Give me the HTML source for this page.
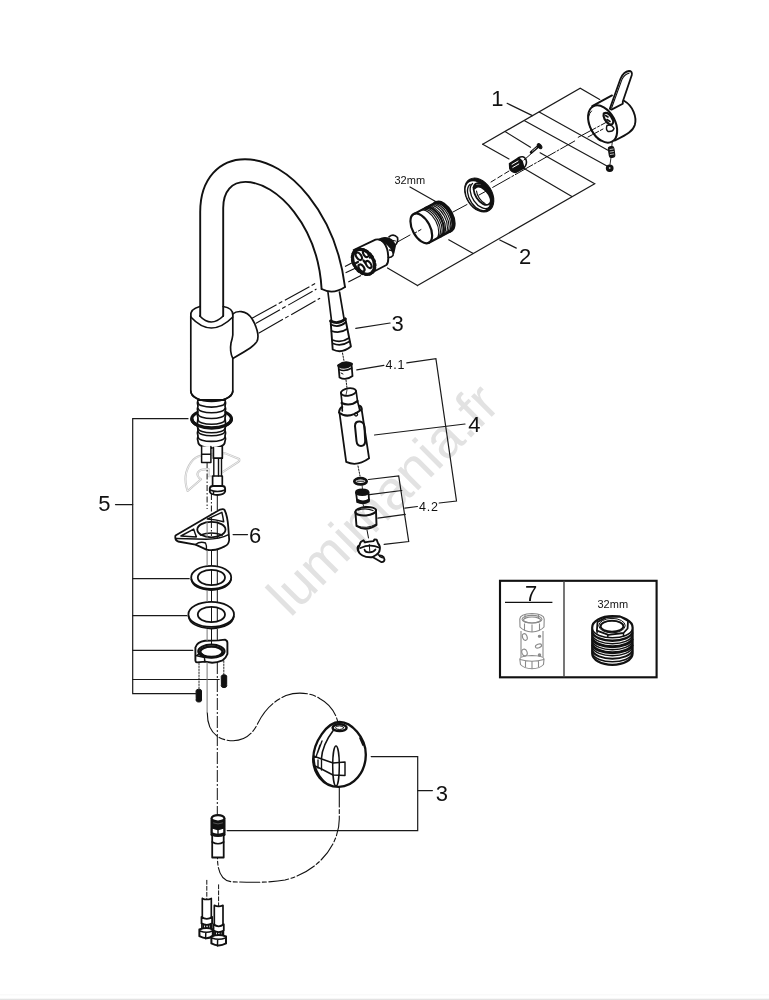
<!DOCTYPE html>
<html><head><meta charset="utf-8">
<style>
html,body{margin:0;padding:0;background:#fff;width:769px;height:1000px;overflow:hidden;position:relative}
svg{position:absolute;left:0;top:0;will-change:transform}
.wm{position:absolute;left:0;top:0;font-family:"Liberation Sans",sans-serif;font-size:55px;color:#e2e2e2;white-space:nowrap;transform-origin:0 0;line-height:1}
.bot{position:absolute;left:0;top:994px;width:769px;height:6px;background:linear-gradient(#fff 0px,#fafafa 0.5px,#fafafa 1.2px,#fff 1.8px,#fff 4.2px,#e9e9e9 5px,#dcdcdc 6px)}
</style></head><body>
<div class="wm" style="left:286px;top:613.5px;transform:rotate(-45deg) translate(0,-40px)">lumimania.fr</div>
<svg width="769" height="1000" viewBox="0 0 769 1000" font-family="Liberation Sans, sans-serif">
<!-- ============ LEADER LINES ============ -->
<g fill="none" stroke="#1a1a1a" stroke-width="1.2" stroke-linecap="round">
<!-- bracket 1 -->
<path d="M482.7 144.2 L580.2 88.3 L599.7 99.4"/>
<path d="M482.7 144.2 L509 158.9"/>
<path d="M505.1 131.6 L530.5 147.2"/>
<path d="M524.6 120.8 L606.5 165.7"/>
<path d="M539.2 112.1 L607.5 150.1"/>
<path d="M507.1 103.3 L532.4 115.6"/>
<!-- bracket 2 -->
<path d="M540.1 152.8 L594.7 183.7 L417.5 285.6"/>
<path d="M523.7 168.2 L571.9 196.5"/>
<path d="M448.7 239.8 L472.8 253.3"/>
<path d="M387.5 268 L417.5 285.6"/>
<path d="M499.8 240 L516.3 248.1"/>
<path d="M410 187 L437.4 202.4"/>
<!-- 3 upper -->
<path d="M355.8 328.3 L390.1 323"/>
<!-- 4.1 -->
<path d="M356.8 369.9 L383.9 365.3"/>
<path d="M406.8 362.8 L435.9 358.7 L456.5 501 L439.2 503"/>
<!-- 4 -->
<path d="M374.5 435 L465 424"/>
<!-- 4.2 -->
<path d="M368.5 479.5 L398.7 476 L408.7 541.5 L384.1 544.3"/>
<path d="M369.5 494.7 L401.8 490.5"/>
<path d="M377.9 518.2 L405.3 514.4"/>
<path d="M417.4 506.5 L404.9 508.2"/>
<!-- 5 -->
<path d="M188 418.7 L132.7 418.7 L132.7 693.7 L195.5 693.7"/>
<path d="M132.7 578.7 L189.2 578.7"/>
<path d="M132.7 615.7 L187 615.7"/>
<path d="M132.7 650.3 L192.8 650.3"/>
<path d="M132.7 679.5 L219.2 679.5"/>
<path d="M115.5 504.6 L132.7 504.6"/>
<!-- 6 -->
<path d="M233.1 534.6 L247.5 534.6"/>
<!-- 3 lower -->
<path d="M371.2 756.6 L417.7 756.6 L417.7 830.6 L227.2 830.6"/>
<path d="M417.7 790.6 L432.4 790.6"/>
</g>

<!-- ============ PARTS ============ -->
<g fill="none" stroke="#111" stroke-width="1.68" stroke-linecap="round" stroke-linejoin="round">
<!-- spout -->
<path d="M200.2 316 L200.2 212 C200.2 178 220 159.2 245 159.2 C290 159.2 336 215 345 287" stroke-width="1.9"/>
<path d="M223.2 316 L223.2 208 C223.2 191 232 181.9 245.5 181.9 C277 181.9 318 226 321.6 289" stroke-width="1.9"/>
<path d="M321.6 289 Q333 295 345 287"/>
<path d="M199.8 316 Q211 328 223.2 316"/>
<!-- body -->
<path d="M190.8 316 L190.8 391 C190.8 397 200 401.3 211.5 401.3 C223 401.3 232.8 397 232.8 391 L232.8 358.4 Q229.5 352 231 343 Q232.5 338 232.8 335 L232.8 315"/>
<path d="M190.8 316 Q190 309 199.8 306.5 M223.2 306.5 Q233 308 232.8 315"/>
<path d="M190.8 317 Q211 339 232.8 317"/>
<!-- hub -->
<path d="M232.8 314 C236 311 246 309 252 318.8 C256 325 260 336 256.8 341.6 C254 346 250 348.8 232.8 358.4"/>
</g>
<g fill="none" stroke="#111" stroke-width="1.1" stroke-dasharray="28 2.5 4 3">
<path d="M252 318.2 L316.5 282.8"/>
<path d="M255.6 323.6 L316.5 289.1"/>
<path d="M258.6 333.2 L320.1 298.2"/>
<path d="M345 266.4 L355.6 261"/>
<path d="M345.6 272.8 L357.4 267.3"/>
<path d="M348.3 281.9 L361 275.5"/>
</g>

<!-- ============ TOP RIGHT PARTS ============ -->
<g fill="none" stroke="#111" stroke-width="1.68" stroke-linecap="round" stroke-linejoin="round">
<path d="M353.7 250 L375.5 239.6 C382 238 388 245 388.2 256.9 C388.5 262 387.5 264 386.4 265 L367.3 275" stroke-width="1.9"/>
<ellipse cx="363.6" cy="261.8" rx="9.6" ry="13.6" transform="rotate(-35 363.6 261.8)" fill="#fff" stroke-width="3.2"/>
<ellipse cx="363.6" cy="261.8" rx="10.6" ry="14.6" transform="rotate(-35 363.6 261.8)" stroke-width="1.6" stroke-dasharray="2 2.2"/>
<g stroke-width="2.1"><ellipse cx="358.8" cy="256.3" rx="2.4" ry="4.2" transform="rotate(-35 358.8 256.3)"/><ellipse cx="365.8" cy="253.8" rx="2.2" ry="3.6" transform="rotate(-35 365.8 253.8)"/><ellipse cx="361.5" cy="268" rx="2.4" ry="4" transform="rotate(-35 361.5 268)"/><ellipse cx="368.6" cy="264.5" rx="2.2" ry="4" transform="rotate(-35 368.6 264.5)"/></g>
<path d="M363.5 260.5 L365 262.5 M356 263 L358 262 M370 257.5 L372 256" stroke-width="2.2"/>
<path d="M379 239.5 C386 235.5 393 239 395 246 L393.5 253 C391 246 386 242 379 239.5 Z" fill="#111" stroke-width="1.79"/>
<path d="M389.5 250 Q394 250 393 255.5 Q391 258 388.3 257.5" stroke-width="1.57"/>
<path d="M389 236.8 Q393.5 233 397.5 237.5 Q398.5 242 395 245.5" stroke-width="1.68"/>
<path d="M391 240 L395.5 241" stroke-width="1.0"/>
<path d="M397.8 241.8 L410 235" stroke-width="1.0"/>
<ellipse cx="421.3" cy="228.4" rx="16.2" ry="8.8" transform="rotate(62 421.3 228.4)" stroke-width="2.2"/>
<path d="M413.7 214.1 L436.3 202.1 A16.2 8.8 62 0 1 451.5 230.7 L428.9 242.7" stroke-width="2.2"/>
<path d="M420.5 210.5 A16.2 8.8 62 0 1 435.7 239.1 M422.2 209.6 A16.2 8.8 62 0 1 437.4 238.2 M423.9 208.7 A16.2 8.8 62 0 1 439.1 237.3 M425.6 207.8 A16.2 8.8 62 0 1 440.8 236.4 M427.3 206.9 A16.2 8.8 62 0 1 442.5 235.5 M428.9 206.0 A16.2 8.8 62 0 1 444.2 234.6 M430.6 205.1 A16.2 8.8 62 0 1 445.9 233.7 M432.3 204.2 A16.2 8.8 62 0 1 447.6 232.8 M434.0 203.3 A16.2 8.8 62 0 1 449.2 231.9" stroke-width="1.15"/>
<path d="M434.9 202.8 A16.2 8.8 62 0 1 450.1 231.4" stroke-width="2.8"/>
<path d="M425.4 207.9 A16.2 8.8 62 0 1 440.7 236.5" stroke-width="2.0"/>
<path d="M414 233.5 L422 229" stroke-width="1.0" stroke-dasharray="3 2"/>
<path d="M453 212 L467 204.5" stroke-width="1.0"/>
<ellipse cx="479.2" cy="195" rx="18.4" ry="12.8" transform="rotate(57.5 479.2 195)" fill="#111" stroke-width="1.0"/>
<ellipse cx="477.8" cy="195.8" rx="16" ry="10.2" transform="rotate(57.5 477.8 195.8)" fill="#fff" stroke="none"/>
<path d="M470 184.5 A15 9 57.5 0 0 487.5 209.5 M472.5 183.5 A14 8.2 57.5 0 0 489 207.5" stroke-width="1.34"/>
<ellipse cx="482.3" cy="194" rx="12.2" ry="6.8" transform="rotate(57.5 482.3 194)" fill="#fff" stroke-width="1.79"/>
<path d="M476.5 191 A10 5 57.5 0 0 485 203.5" stroke-width="1.1"/>
<path d="M474.5 187.5 A13 8 57.5 0 1 492 201" stroke-width="3.58"/>
<path d="M479 195 L490 189" stroke-width="1.0"/>
<path d="M491 182 L509 171" stroke-width="1.0" stroke-dasharray="5 3"/>
<path d="M524 160 L532 153" stroke-width="1.0"/>
<path d="M492.7 187.4 L574.7 141 M578.2 137.3 L605.6 122.7" stroke-width="1.0" stroke-dasharray="20 2 2 2"/>
<path d="M509.5 163.5 L518.5 157.8 L522 161 L524 168 L515.5 172.6 Q511 172 509.8 168.5 Z" fill="#111" stroke-width="1.46"/>
<path d="M518.5 157.8 Q523.5 155 526 159.5 Q527.5 164 524 168" stroke-width="1.57"/>
<path d="M512 164.5 L518 161 M512.8 167.5 L518.8 164" stroke="#fff" stroke-width="1.0"/>
<path d="M531.2 152.4 L538.5 146.2" stroke-width="2.9"/>
<path d="M532.5 151 L537 147.2" stroke="#fff" stroke-width="0.8" stroke-dasharray="1 1"/>
<ellipse cx="539.6" cy="146.2" rx="1.7" ry="2.9" transform="rotate(-40 539.6 146.2)" fill="#111" stroke-width="1"/>
<path d="M592.2 106.2 L612 95.4 M624 100.8 C633 106 637 117 634.8 125 C633 131 628 134 615 140.5" stroke-width="1.9"/>
<ellipse cx="602.6" cy="124" rx="12.6" ry="20" transform="rotate(-28 602.6 124)" stroke-width="2.02"/>
<path d="M591.5 111 A11 18.5 -28 0 0 600 141" stroke-width="1.0"/>
<path d="M609.8 108.8 L620.4 79 Q623.5 71.5 629 71 Q632.5 71 631.8 75 L622.8 101.5 L622.8 103.8 L611.5 109.6 Z" fill="#fff" stroke-width="1.8"/>
<path d="M611.6 108 L621.9 79.6 Q624.6 74 629 73.2" stroke-width="1.1"/>
<path d="M603.8 113.5 C607 111.5 611 114.5 613.2 120.5 C613.8 124 611.5 125.5 609 124 C605.5 121.5 602.5 117 603.8 113.5 Z" fill="#fff" stroke-width="2.2"/>
<path d="M605.5 115.5 L608 117 M607 119.5 L610 121.5" stroke-width="1.6"/>
<path d="M607 125.5 Q612 124 614 128.5 Q613 132 608 131.5 Q605.5 129.5 607 125.5" stroke-width="1.46"/>
<path d="M588 137 L603 129" stroke-width="1.0" stroke-dasharray="5 2"/>
<rect x="608.8" y="146.5" width="5.6" height="11" rx="2.2" fill="#111" stroke-width="1.0" transform="rotate(-8 611.5 152)"/>
<path d="M610 149.5 L613.2 149 M610.2 152 L613.4 151.5 M610.4 154.5 L613.6 154" stroke="#fff" stroke-width="0.7"/>
<path d="M611 157.5 L610 164.5" stroke-width="0.9"/>
<ellipse cx="609.7" cy="168.3" rx="3.1" ry="2.9" fill="#111" stroke-width="1.57"/>
<ellipse cx="609.7" cy="168" rx="0.9" ry="0.7" fill="#fff" stroke="none"/>
<path d="M612.3 141.5 L611.8 146.5" stroke-width="0.9"/>
</g>
<!-- ============ SPRAY ============ -->
<g fill="none" stroke="#111" stroke-width="1.68" stroke-linecap="round" stroke-linejoin="round">
<!-- hose -->
<path d="M328 292.5 L331.5 320.5 M339.5 292 L344 318.5"/>
<!-- connector 3 -->
<path d="M330.6 320.6 L332.7 349.5 Q341.8 354 350.9 346.5 L345.3 318.5" stroke-width="1.9"/>
<path d="M330.6 321 Q338 325 345.3 319" stroke-width="2.9"/>
<path d="M330.8 324.5 Q338.5 328.5 345.5 322.5" stroke-width="1.79"/>
<path d="M331.5 331 Q340 334 347 329 M332.5 340 Q341 343.5 349 338 M333 343.5 Q341 347 349.5 341.5" stroke-width="1.68"/>
<path d="M342.5 353 L344 361" stroke-width="1.0" stroke-dasharray="1.5 1.5"/>
<!-- 4.1 -->
<path d="M338.5 365.5 Q345 361 351.5 364 L352.5 376 Q346 381 339.5 377.5 Z" stroke-width="1.79"/>
<path d="M338.5 365.5 Q345 370 351.5 364 Q345 360.5 338.5 365.5 Z" fill="#111" stroke-width="2.8"/>
<path d="M339 369.5 Q345 372 351.8 368" stroke-width="1.46"/>
<path d="M341 373 L343 374" stroke-width="1.0"/>
<path d="M346 380 L347 388" stroke-width="1.0" stroke-dasharray="1.5 1.5"/>
<!-- spray head 4 -->
<ellipse cx="348.5" cy="392" rx="7.6" ry="3.7" transform="rotate(-8 348.5 392)" stroke-width="1.79"/>
<path d="M340.9 392.5 L342 403 M356.1 391 L357.5 401"/>
<path d="M341.5 403 Q350 407 357.5 401" stroke-width="2.02"/>
<path d="M342 404 L342.3 411 M357.5 401 L359.6 409.5"/>
<path d="M339 412.5 Q339.5 408 342.3 407 M359.6 405.8 Q361.8 406.5 361.5 409.5 M339 412.5 Q348 420 361.5 409.5" stroke-width="2.02"/>
<path d="M356 413 A1.5 1.5 0 1 0 356.1 413" stroke-width="1.34"/>
<path d="M339.5 413 L346.2 461.9 Q357 467 369.1 458.3 L361.5 408.5" stroke-width="1.79"/>
<path d="M355 426 Q355 421 360 421.5 Q364 422 364.5 427 L365.2 441 Q365 446 361 446 Q357 446 356.5 441 Z" stroke-width="2.02"/>
<path d="M346 395 L347 390" stroke-width="0.8"/>
<path d="M358 466 L360 476" stroke-width="1.0" stroke-dasharray="1.5 1.5"/>
<!-- 4.2 washer -->
<ellipse cx="360.5" cy="481.3" rx="6.2" ry="3.1" stroke-width="2.69"/>
<path d="M357 481.2 L364 481.2" stroke-width="1.0"/>
<path d="M362 484.5 L362.5 489" stroke-width="0.8"/>
<!-- aerator insert -->
<path d="M356 492.5 L357 500 Q362.5 505 369 500 L368.5 492" stroke-width="1.79"/>
<ellipse cx="362.2" cy="492.2" rx="6.2" ry="2.8" fill="#111" stroke-width="1.79"/>
<path d="M357 499.5 Q363 503 369 499.5 L369 501.5 Q363 505 357 502 Z" fill="#111" stroke-width="1.57"/>
<path d="M363 504 L364 507" stroke-width="0.8"/>
<!-- housing -->
<ellipse cx="365.7" cy="511.2" rx="10.4" ry="4.2" transform="rotate(-5 365.7 511.2)" stroke-width="2.02"/>
<path d="M358 510 Q366 507.5 373 510.5" stroke-width="1.34"/>
<path d="M355.4 512 L356.5 526 Q366 532 376.5 525 L376 510.5" stroke-width="1.9"/>
<path d="M356.5 525.5 Q366 530 376.5 524" stroke-width="1.0"/>
<path d="M367 530 L368.5 538" stroke-width="1.0"/>
<!-- key tool -->
<path d="M361.1 541.7 L363.5 540.3 L364.8 542.3 Q369 541.3 373.4 541.1 L374.6 539.4 L376.6 539.7 Q377.5 542 378.1 543.5 Q380.5 546 379.8 549.5 Q379.5 553 376 555 L372.2 557.2 Q366 557.5 362.5 555.5 Q358 553 357.6 549 Q357.3 546 359.5 545.5 Q360 543 361.1 541.7 Z" stroke-width="1.9"/>
<path d="M372.5 557 L381.6 562.2 Q384.5 562 384.5 559.5 Q384 556.5 382 555.8 L378.5 555" stroke-width="1.79"/>
<path d="M379.5 556.3 L382.5 557.8" stroke-width="1.34"/>
<path d="M360.5 548 Q370 543.5 379 547.5" stroke-width="1.9"/>
<path d="M364.5 549.5 Q365 552.5 369.5 552.3 Q374 552 375.5 549.5" stroke-width="1.68"/>
<path d="M369.3 544.5 L369.8 551.5" stroke-width="1.0"/>
<path d="M359.2 546.5 Q357.6 549.5 359.5 553" stroke-width="1.46"/>
</g>

<!-- ghost mount -->
<g fill="none" stroke-linejoin="round">
<path d="M187.6 491 Q182 475 191 462.4 Q195 457 201.1 455.6 L224.8 453.1 L239.2 459 Q239.8 461 238.3 461.8 L220.6 473.4 Q214 476.5 208.7 476.2 L208.7 469.1 Q202 469 199.4 470.8 Q196.5 473 197.8 475.9 Q199 478.5 201.1 479.3 L187.6 491 Z" stroke="#c4c4c4" stroke-width="2.1"/>
<path d="M187.6 491 Q182 475 191 462.4 Q195 457 201.1 455.6 L224.8 453.1 L239.2 459 Q239.8 461 238.3 461.8 L220.6 473.4 Q214 476.5 208.7 476.2 L208.7 469.1 Q202 469 199.4 470.8 Q196.5 473 197.8 475.9 Q199 478.5 201.1 479.3 L187.6 491 Z" stroke="#fff" stroke-width="0.7"/>
</g>
<!-- ============ LEFT COLUMN PARTS ============ -->
<g fill="none" stroke="#111" stroke-width="1.68" stroke-linecap="round" stroke-linejoin="round">
<!-- shank -->
<ellipse cx="211.6" cy="418.8" rx="19.8" ry="9.1" stroke-width="3.14"/>
<path d="M198 400 Q196.8 403.5 198 406 Q196.8 409 198 412 Q196.8 415 198 418 Q196.8 424 198 430 Q196.8 433.5 198 436 Q196.8 439.5 198.2 442.2 A13.3 5.8 0 0 0 224.8 442.2 Q226.2 439.5 225 436 Q226.2 433.5 225 430 Q226.2 424 225 418 Q226.2 415 225 412 Q226.2 409 225 406 Q226.2 403.5 225 400 Z" fill="#fff" stroke-width="1.79"/>
<path d="M198.2 402.9 A13.3 4.2 0 0 0 224.8 402.9 M198.2 408.6 A13.3 4.2 0 0 0 224.8 408.6 M198.2 414.3 A13.3 4.2 0 0 0 224.8 414.3 M198.2 420.0 A13.3 4.2 0 0 0 224.8 420.0 M198.2 428.6 A13.3 4.2 0 0 0 224.8 428.6 M198.2 431.5 A13.3 4.2 0 0 0 224.8 431.5 M198.2 437.2 A13.3 4.2 0 0 0 224.8 437.2" stroke-width="1.57"/>
<path d="M191.9 419.5 A19.8 9.1 0 0 0 231.4 419.5" stroke-width="3.36"/>
<path d="M190.8 391 C190.8 397 200 401.3 211.5 401.3 C223 401.3 232.8 397 232.8 391" stroke-width="1.68"/>
<!-- tubes -->
<rect x="201.6" y="446.5" width="9.3" height="15.9" fill="#fff" stroke="none"/><rect x="212.6" y="447" width="9.7" height="40" fill="#fff" stroke="none"/>
<path d="M201.6 446.5 L201.6 462.4 L210.9 462.4 L210.9 446.5 M201.6 454.3 L210.9 454.3" stroke-width="1.5"/>
<path d="M213.4 447.5 L213.4 458.2 M222.3 446.5 L222.3 458.2 M213.4 458.2 L222.3 458.2" stroke-width="1.7"/>
<path d="M213.8 458.2 L213.8 476 M221.5 458.2 L221.5 476 M218.5 459 L218.5 476" stroke-width="1.4"/>
<path d="M212.6 476 L222.3 476 L222.3 486.5 M212.6 476 L212.6 486.5" stroke-width="1.7"/>
<path d="M209.8 488.5 Q210 486 213 486 L222.3 486 Q225 486 225.1 488.5 L225.1 491.5 Q224 494.8 217.5 495 Q211 494.8 209.9 492 Z" fill="#fff" stroke-width="1.9"/>
<path d="M210 490 Q217.5 493 225 490 M213.5 491.5 L213.5 494" stroke-width="1.4"/>
<!-- part 6 -->
<path d="M175.5 535.5 L220.1 509.6 Q223.5 508.5 224.6 510 Q227.5 516 228.3 527.3 L229.2 540 Q228.5 545 224.6 546.4 Q218 550 212.8 550 Q208 550.5 206.4 549.6 Q201 547 195.5 544.6 L178 541.5 Q174.5 540 175.5 535.5 Z" stroke-width="1.79"/>
<path d="M176.4 538.4 L206.4 539.3 Q220 539 228.5 534.6" stroke-width="1.46"/>
<ellipse cx="211.4" cy="529.6" rx="14.1" ry="7.7" stroke-width="1.79"/>
<path d="M200.5 535 Q211.4 531 222.3 535" stroke-width="1.57"/>
<path d="M180.9 536 L193.7 529.1 Q195 533.5 196.4 536.9 Z M207.3 519.1 L221.9 512.3 Q223 517 223.7 521.8 Q215 519.5 207.3 519.1 Z" stroke-width="1.46"/>
<path d="M195.5 544.6 Q200 541 205.5 543 Q207 546 206.4 549.6" stroke-width="1.34"/>
<!-- washer 1 -->
<ellipse cx="211.2" cy="577.4" rx="20" ry="11.6" stroke-width="1.79"/>
<path d="M191.4 579.5 Q193 588.5 211.2 590.2 Q229 588.5 231 579.5" stroke-width="1.79"/>
<ellipse cx="211.4" cy="577.5" rx="13.6" ry="7.7" stroke-width="1.79"/>
<!-- washer 2 -->
<ellipse cx="211.2" cy="614.4" rx="22.8" ry="12.5" stroke-width="1.79"/>
<path d="M188.6 616.5 Q190 627 211.2 628.5 Q232 627 233.8 616.5" stroke-width="1.79"/>
<ellipse cx="211.4" cy="614.5" rx="13.6" ry="7.7" stroke-width="1.79"/>
<!-- flange -->
<path d="M195.4 647.6 Q197 642 205 640.8 L218.6 640.4 L225 639.6 Q227.4 640.5 227.4 642.8 L227.4 654 Q226 658 222.6 660.4 Q217 662.8 212.2 662.8 L205 661.6 L197 662.4 Q195.4 662 195.4 660.4 Z" stroke-width="1.9"/>
<ellipse cx="211.4" cy="651.2" rx="13.2" ry="6.6" stroke-width="2.02"/>
<ellipse cx="211.4" cy="651.8" rx="11.2" ry="5.3" stroke-width="2.46"/>
<path d="M195.8 655.5 L204.5 657.5 L204.8 661.6" stroke-width="1.46"/>
<path d="M197.5 655 Q200 652.5 203 655" stroke-width="1.68"/>
<!-- screws -->
<path d="M221.3 676 Q221.5 674.8 224 674.8 Q226.5 674.8 226.7 676 L226.7 684.5 Q227.4 687.6 224 687.6 Q220.5 687.6 221.3 684.5 Z" fill="#111" stroke-width="1.0"/>
<path d="M196.1 690.5 Q196.3 689.2 198.8 689.2 Q201.3 689.2 201.5 690.5 L201.5 699 Q202.2 702 198.8 702 Q195.4 702 196.1 699 Z" fill="#111" stroke-width="1.0"/>
<path d="M199 663 L199 689 M223.8 661 L223.8 674.5" stroke-width="0.9" stroke-dasharray="1.5 1.5"/>
</g>
<!-- vertical axis lines -->
<g fill="none" stroke-width="1.0">
<path d="M207.1 462 L207.1 509" stroke="#111" stroke-dasharray="6 2 1.5 2"/>
<path d="M211.4 494 L211.4 522" stroke="#111" stroke-dasharray="6 2 1.5 2"/>
<path d="M217.3 494 L217.3 510 M217.3 521.5 L217.3 538.5" stroke="#111"/>
<path d="M207.1 522 L207.1 538" stroke="#777"/>
<path d="M211.4 522 L211.4 536" stroke="#111" stroke-dasharray="6 2 1.5 2"/>
<path d="M207.1 550 L207.1 566 M207.1 590 L207.1 602 M207.1 629 L207.1 641 M207.1 662 L207.1 713" stroke="#777"/>
<path d="M211.5 550 L211.5 566 M211.5 590 L211.5 602 M211.5 629 L211.5 644 M211.5 570 L211.5 585 M211.5 607 L211.5 622" stroke="#111"/>
<path d="M217.3 550 L217.3 566 M217.3 570 L217.3 585 M217.3 590 L217.3 602 M217.3 607 L217.3 622 M217.3 629 L217.3 641" stroke="#111"/>
<path d="M217.3 662 L217.3 815" stroke="#111" stroke-dasharray="12 2 2 2"/>
</g>

<!-- ============ LOWER PARTS ============ -->
<g fill="none" stroke="#111" stroke-width="1.1" stroke-linecap="round" stroke-linejoin="round">
<path d="M207.3 713 C207.3 732 218 740.7 233.2 740.7 C246 740.7 253 733 258 723 C264 711 272 702 286 695.5 C296 692 310 692 320 698.7 C330 704 337 714 338.5 726" stroke-dasharray="26 2.5 6 2.5"/>
<path d="M339.3 787 L339.3 819 C339.3 845 318 872 285 880 C270 883 245 882.3 232 881.8 C222 881 217.5 872 217.5 858" stroke-dasharray="20 2.5 4 2.5"/>
</g>
<g fill="none" stroke="#111" stroke-width="1.68" stroke-linecap="round" stroke-linejoin="round">
<!-- weight -->
<path d="M339.6 722 C351 722 366 737 365.8 755 C365.5 772 354 787 338.7 786.9 C322 786.5 313 772 313.2 758.7 C313.5 742 327 722 339.6 722 Z" stroke-width="2.35"/>
<ellipse cx="339.6" cy="727.7" rx="7" ry="3.4" stroke-width="2.46"/>
<ellipse cx="339.6" cy="727.7" rx="4" ry="1.8" stroke-width="1.0"/>
<path d="M333.2 730.5 C326 740 322 750 321.4 758.7" stroke-width="1.57"/>
<path d="M320 745 L316 757 M322 741 L317.5 753" stroke-width="1.34"/>
<path d="M313.5 756 L321 758.7 L333 763 L345 762 L345 775.5 L333 775 L321.5 769 L315 766 Z" stroke-width="1.46"/>
<path d="M318 760 L318 768 M321.5 760 L321.5 770" stroke-width="1.34"/>
<ellipse cx="336" cy="766" rx="3.3" ry="20" stroke-width="1.46"/>
<path d="M315 766 Q318 776 326 783" stroke-width="1.57"/>
<path d="M360 738 L363 745" stroke-width="1.79"/>
<!-- lower connector -->
<path d="M211.6 818.5 L211.6 835 M224.4 818.5 L224.4 835" stroke-width="2.02"/>
<path d="M211.6 820 L224.4 820 L224.4 827.5 Q218 830 211.6 827.5 Z" fill="#111" stroke-width="1.57"/>
<ellipse cx="218" cy="818.3" rx="6.4" ry="3.2" fill="#fff" stroke-width="2.13"/>
<path d="M213.5 823 Q218 825 222.5 823" stroke="#666" stroke-width="0.8"/>
<path d="M211.6 828.5 Q212 827 215 828.5 L218 829.5 L221 828.5 Q224 827 224.4 828.5 L224.4 833 Q218 836 211.6 833 Z" stroke-width="1.68"/>
<path d="M218 829.5 L218 834.5" stroke-width="1.34"/>
<path d="M211.6 834.5 Q218 837.5 224.4 834.5" stroke-width="2.02"/>
<path d="M212.2 835.5 L212.2 857.5 L223.7 857.5 L223.7 835.5" stroke-width="1.79"/>
<path d="M212.2 842 Q218 845.5 223.7 842" stroke-width="1.68"/>
<!-- supply hoses -->
<path d="M206.8 880.3 L206.8 899" stroke-width="1.0" stroke-dasharray="4 2"/>
<path d="M218.6 884.8 L218.6 906" stroke-width="1.0" stroke-dasharray="4 2"/>
<path d="M202.3 898.4 Q206.8 900.6 211.3 898.4 L211.3 918.4 M202.3 898.4 L202.3 918.4" stroke-width="1.68"/>
<path d="M201.5 916.9 Q206.8 920.9 212.10000000000002 916.9 L212.10000000000002 923.4 Q206.8 926.4 201.5 923.4 Z" fill="#fff" stroke-width="1.79"/>
<path d="M201.8 924.4 L201.8 929.5 M211.8 924.4 L211.8 929.5 M203.4 924.9 L203.4 929.5 M205.7 924.9 L205.7 929.5 M208.4 924.9 L208.4 929.5 M210.4 924.9 L210.4 929.5" stroke-width="1.46"/>
<path d="M199.4 929.5 Q206.8 926.5 212.8 929.5 L212.8 936.2 Q206.8 940.2 199.4 936.2 Z" fill="#fff" stroke-width="2.02"/>
<path d="M199.9 931.0 Q206.8 933.5 212.3 931.0 M205.8 932.3 L205.60000000000002 938.7" stroke-width="1.46"/>
<path d="M214.3 905.3 Q218.65 907.5 223.0 905.3 L223.0 925.8 M214.3 905.3 L214.3 925.8" stroke-width="1.68"/>
<path d="M213.5 924.3 Q218.65 928.3 223.8 924.3 L223.8 930.6 Q218.65 933.6 213.5 930.6 Z" fill="#fff" stroke-width="1.79"/>
<path d="M213.8 931.6 L213.8 936.5 M223.5 931.6 L223.5 936.5 M215.3 932.1 L215.3 936.5 M217.6 932.1 L217.6 936.5 M220.2 932.1 L220.2 936.5 M222.1 932.1 L222.1 936.5" stroke-width="1.46"/>
<path d="M211.4 936.5 Q218.65 933.5 226.0 936.5 L226.0 943.4 Q218.65 947.4 211.4 943.4 Z" fill="#fff" stroke-width="2.02"/>
<path d="M211.9 938.0 Q218.65 940.5 225.5 938.0 M217.65 939.3 L217.45000000000002 945.9" stroke-width="1.46"/>
</g>
<!-- ============ BOX 7 ============ -->
<g fill="none" stroke="#111" stroke-linejoin="miter">
<rect x="500" y="580.8" width="156.6" height="96.5" stroke-width="2.13"/>
<path d="M564 580.8 L564 677.2" stroke="#444" stroke-width="1.46"/>
<path d="M505 602.4 L552.4 602.4" stroke-width="1.1"/>
</g>
<g fill="none" stroke="#8a8a8a" stroke-width="1.1" stroke-linejoin="round">
<path d="M519.8 619 Q520 614 532 613.5 Q544 614 544.2 619 L544 627 Q540 631.5 532 632 Q524 631.5 520 627 Z"/>
<ellipse cx="532" cy="619.2" rx="10" ry="3.8"/>
<ellipse cx="532" cy="620" rx="8.5" ry="3"/>
<path d="M525 614.5 L525 619 M538.5 614.5 L538.5 619 M524.5 623.5 L524.5 630.2 M532 624.5 L532 632 M539.5 623.5 L539.5 630.2"/>
<path d="M521 631 L521 657 M543 631 L543 657"/>
<path d="M519.8 659 Q520 656 532 655.5 Q544 656 544 659 L543.5 664.5 Q540 668.5 532 668.8 Q524 668.5 520.5 664.5 Z"/>
<path d="M520 659.5 Q532 663 544 659.5 M525.5 660.8 L525.5 667.2 M532 661.5 L532 668.8 M538.5 660.8 L538.5 667.2"/>
<ellipse cx="524.8" cy="637" rx="2.3" ry="3.4" transform="rotate(-20 524.8 637)"/>
<ellipse cx="539.5" cy="636.2" rx="1.2" ry="1" fill="#8a8a8a"/>
<ellipse cx="538.5" cy="646" rx="3.2" ry="1.8" transform="rotate(-20 538.5 646)"/>
<ellipse cx="524.5" cy="652.5" rx="2.6" ry="3.4" transform="rotate(-20 524.5 652.5)"/>
<ellipse cx="539.5" cy="655" rx="1.2" ry="1.1" fill="#8a8a8a"/>
</g>
<g fill="none" stroke="#111" stroke-linejoin="round">
<path d="M592.2 627.5 A20.2 11.3 0 0 1 632.6 627.5 L632.6 653.5 A20.2 11.3 0 0 1 592.2 653.5 Z" fill="#fff" stroke-width="2.2"/>
<path d="M592.4 629.5 A20.2 9.6 0 0 0 632.4 629.5" stroke-width="1.6"/>
<path d="M592.4 632.5 A20.2 9.6 0 0 0 632.4 632.5" stroke-width="2.4"/>
<path d="M592.4 635.5 A20.2 9.6 0 0 0 632.4 635.5" stroke-width="1.4"/>
<path d="M592.4 638.5 A20.2 9.6 0 0 0 632.4 638.5" stroke-width="2.8"/>
<path d="M592.4 641.5 A20.2 9.6 0 0 0 632.4 641.5" stroke-width="1.4"/>
<path d="M592.4 644.5 A20.2 9.6 0 0 0 632.4 644.5" stroke-width="2.8"/>
<path d="M592.4 647.5 A20.2 9.6 0 0 0 632.4 647.5" stroke-width="1.4"/>
<path d="M592.4 650.5 A20.2 9.6 0 0 0 632.4 650.5" stroke-width="2.0"/>
<path d="M592.4 653.5 A20.2 9.6 0 0 0 632.4 653.5" stroke-width="1.6"/>
<path d="M596.9 630.7 L597.5 622 L607 617 L620 616.5 L628 621 L627.6 628.5 L623.5 633 L608.4 634.8 Z" fill="#fff" stroke-width="1.8"/>
<ellipse cx="612" cy="626.2" rx="11.4" ry="5.4" stroke-width="1.9"/>
<ellipse cx="612" cy="625.6" rx="13.2" ry="7.2" stroke-width="1" />
<path d="M607.8 634.6 L607.8 638 M623.5 633 L623.5 636.5 M596.9 630.7 L597.2 633.5" stroke-width="1.4"/>
</g>
<!-- labels -->
<g fill="#111" font-size="22">
<text x="491.2" y="105.5">1</text>
<text x="519" y="264">2</text>
<text x="391.6" y="330.5">3</text>
<text x="468.2" y="431.5">4</text>
<text x="98.2" y="510.5">5</text>
<text x="249.1" y="542.5">6</text>
<text x="435.7" y="800.5">3</text>
<text x="525" y="600.5">7</text>
</g>
<g fill="#111" font-size="12.5" letter-spacing="0.8">
<text x="385.5" y="368.5">4.1</text>
<text x="419" y="510.5">4.2</text>
</g>
<g fill="#111" font-size="11">
<text x="394.5" y="183.5">32mm</text>
<text x="597.5" y="607.5">32mm</text>
</g>
</svg>
<div class="bot"></div>
</body></html>
